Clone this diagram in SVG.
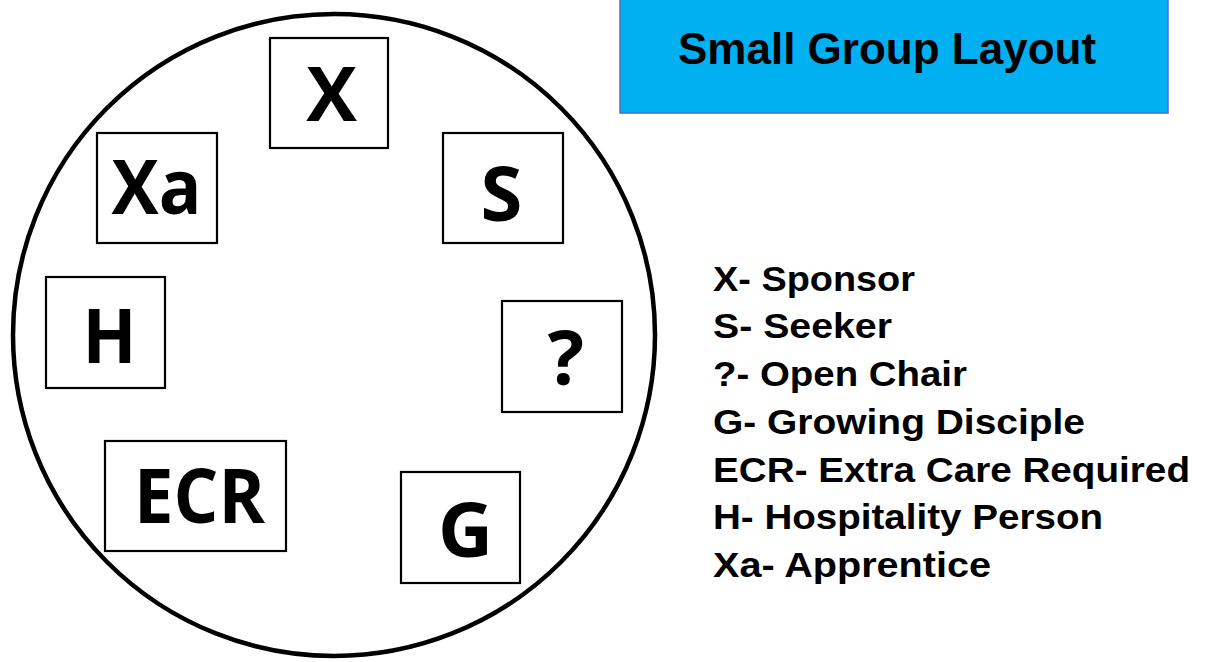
<svg xmlns="http://www.w3.org/2000/svg" width="1212" height="662" viewBox="0 0 1212 662">
<style>
.seat{fill:#fff;stroke:#000;stroke-width:2.2}
.lbl{font-family:"Open Sans","DejaVu Sans",sans-serif;font-weight:bold;font-size:76px;fill:#000;text-anchor:middle}
.leg{font-family:"Liberation Sans",Arial,sans-serif;font-weight:bold;font-size:35px;fill:#000}
.title{font-family:"Liberation Sans",Arial,sans-serif;font-weight:bold;font-size:44px;fill:#000}
</style>
<rect width="1212" height="662" fill="#fff"/>
<g id="title">
<rect x="620" y="-2" width="548" height="115" fill="#00B0F0" stroke="#4472C4" stroke-width="1.5"/>
<text class="title" x="678" y="64">Small Group Layout</text>
</g>
<g id="table">
<circle cx="334" cy="335" r="321" fill="none" stroke="#000" stroke-width="4.5"/>
</g>
<g id="connectors"></g>
<g id="seat-X"><rect class="seat" x="270" y="38" width="118" height="110"/><text class="lbl" x="331.5" y="121">X</text></g>
<g id="seat-Xa"><rect class="seat" x="97" y="133" width="120" height="110"/><text class="lbl" x="156.5" y="214" textLength="90" lengthAdjust="spacingAndGlyphs">Xa</text></g>
<g id="seat-S"><rect class="seat" x="443" y="133" width="120" height="110"/><text class="lbl" x="501.5" y="221">S</text></g>
<g id="seat-H"><rect class="seat" x="46" y="277" width="119" height="111"/><text class="lbl" x="109.5" y="363" textLength="54" lengthAdjust="spacingAndGlyphs">H</text></g>
<g id="seat-Q"><rect class="seat" x="502" y="301" width="120" height="111"/><text class="lbl" x="566" y="385">?</text></g>
<g id="seat-ECR"><rect class="seat" x="105" y="441" width="181" height="110"/><text class="lbl" x="199.5" y="523" textLength="131" lengthAdjust="spacingAndGlyphs">ECR</text></g>
<g id="seat-G"><rect class="seat" x="401" y="472" width="119" height="111"/><text class="lbl" x="465.5" y="557">G</text></g>
<g id="legend">
<text class="leg" x="713" y="291" textLength="202" lengthAdjust="spacingAndGlyphs">X- Sponsor</text>
<text class="leg" x="713" y="338" textLength="179" lengthAdjust="spacingAndGlyphs">S- Seeker</text>
<text class="leg" x="713" y="386" textLength="254" lengthAdjust="spacingAndGlyphs">?- Open Chair</text>
<text class="leg" x="713" y="434" textLength="372" lengthAdjust="spacingAndGlyphs">G- Growing Disciple</text>
<text class="leg" x="713" y="482" textLength="477" lengthAdjust="spacingAndGlyphs">ECR- Extra Care Required</text>
<text class="leg" x="713" y="529" textLength="390" lengthAdjust="spacingAndGlyphs">H- Hospitality Person</text>
<text class="leg" x="713" y="577" textLength="278" lengthAdjust="spacingAndGlyphs">Xa- Apprentice</text>
</g>
</svg>
